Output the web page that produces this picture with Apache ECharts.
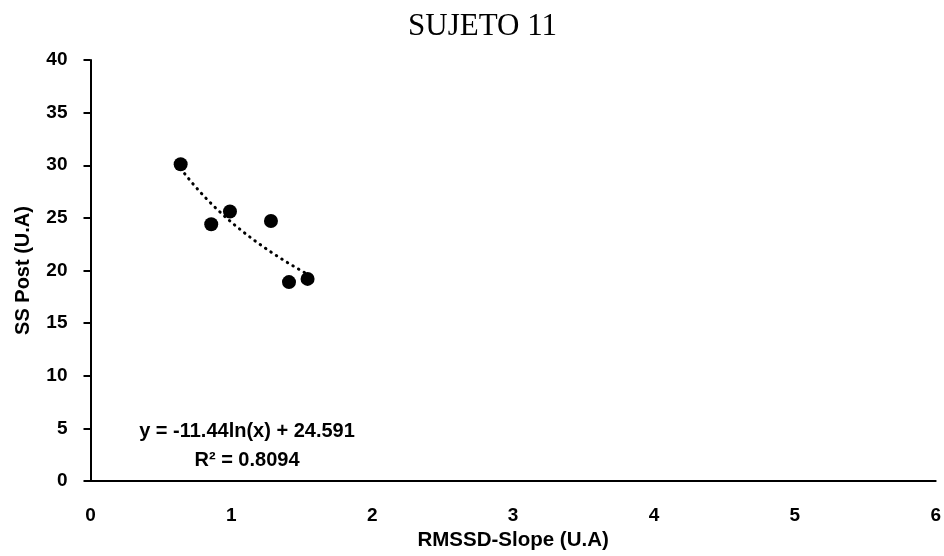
<!DOCTYPE html>
<html>
<head>
<meta charset="utf-8">
<script src="https://cdn.jsdelivr.net/npm/echarts@6/dist/echarts.min.js"></script>
<style>
  html, body { margin: 0; padding: 0; background: #fff; }
  #chart { width: 944px; height: 556px; }
</style>
</head>
<body>
<div id="chart"></div>
<script>
// RMSSD-Slope (x) vs SS Post (y)
const rmssdSlope = [0.64, 0.857, 0.99, 1.281, 1.409, 1.541];
const ssPost = [30.1, 24.4, 25.6, 24.7, 18.9, 19.2];

// log trendline as printed on the chart
const trendA = -11.44;
const trendB = 24.591;
const trendR2 = 0.8094;

const xTicks = [0, 1, 2, 3, 4, 5, 6];
const yTicks = [0, 5, 10, 15, 20, 25, 30, 35, 40];

const points = rmssdSlope.map((x, i) => [x, ssPost[i]]);

const xMin = Math.min(...rmssdSlope);
const xMax = Math.max(...rmssdSlope);
const trend = [];
for (let i = 0; i <= 40; i++) {
  const x = xMin + (xMax - xMin) * i / 40;
  trend.push([x, trendA * Math.log(x) + trendB]);
}

const labelFont = "'Liberation Sans', Arial, sans-serif";

const chart = echarts.init(document.getElementById("chart"));
chart.setOption({
  animation: false,
  title: {
    text: "SUJETO 11",
    left: 403,
    top: 6,
    textStyle: {
      fontFamily: "'Liberation Serif', serif",
      fontWeight: "normal",
      fontSize: 31,
      color: "#000",
    },
  },
  grid: { left: 90.5, right: 8, top: 60, bottom: 75 },
  xAxis: {
    type: "value",
    min: xTicks[0],
    max: xTicks[xTicks.length - 1],
    interval: 1,
    name: "RMSSD-Slope (U.A)",
    nameLocation: "middle",
    nameGap: 45,
    nameTextStyle: { fontFamily: labelFont, fontWeight: "bold", fontSize: 20.5, color: "#000" },
    axisLine: { lineStyle: { color: "#000", width: 2 } },
    axisTick: { show: false },
    axisLabel: { margin: 25, fontFamily: labelFont, fontWeight: "bold", fontSize: 19, color: "#000" },
    splitLine: { show: false },
  },
  yAxis: {
    type: "value",
    min: yTicks[0],
    max: yTicks[yTicks.length - 1],
    interval: 5,
    name: "SS Post (U.A)",
    nameLocation: "middle",
    nameGap: 57,
    nameTextStyle: { fontFamily: labelFont, fontWeight: "bold", fontSize: 20, color: "#000" },
    axisLine: { show: true, lineStyle: { color: "#000", width: 2 } },
    axisTick: { show: true, inside: false, length: 7, lineStyle: { color: "#000", width: 2 } },
    axisLabel: { margin: 23, fontFamily: labelFont, fontWeight: "bold", fontSize: 19, color: "#000" },
    splitLine: { show: false },
  },
  graphic: [
    {
      type: "text",
      x: 247,
      y: 417,
      style: {
        text: "y = " + trendA + "ln(x) + " + trendB + "\nR² = " + trendR2,
        font: "bold 20px " + labelFont,
        fill: "#000",
        align: "center",
        verticalAlign: "top",
        lineHeight: 29,
      },
    },
  ],
  series: [
    {
      type: "line",
      data: trend,
      showSymbol: false,
      smooth: false,
      lineStyle: { color: "#000", width: 3, type: [0.5, 6], cap: "round" },
      z: 1,
    },
    {
      type: "scatter",
      data: points,
      symbol: "circle",
      symbolSize: 14,
      itemStyle: { color: "#000", opacity: 1 },
      z: 2,
    },
  ],
});
</script>
</body>
</html>
